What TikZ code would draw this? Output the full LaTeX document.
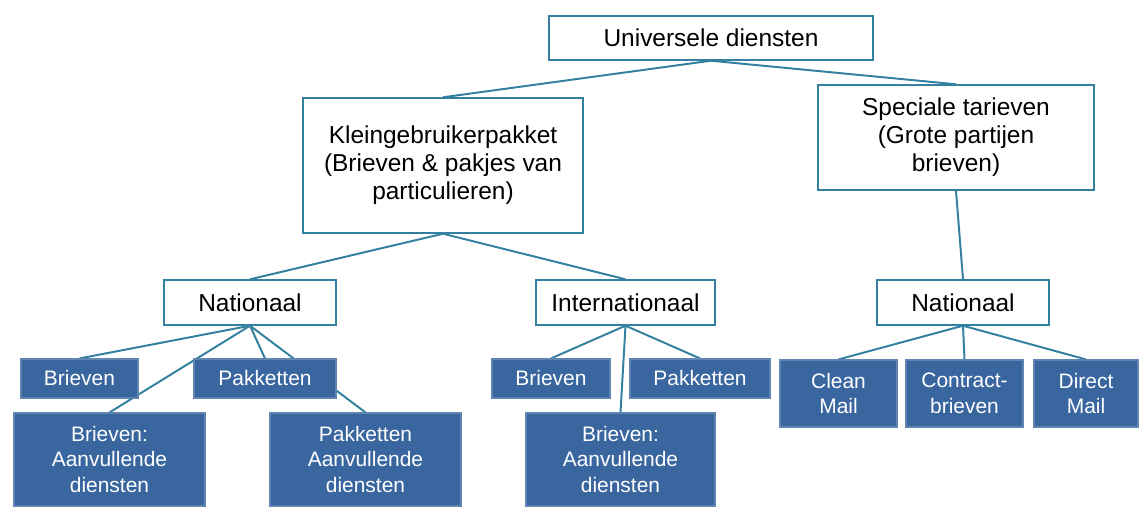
\documentclass[tikz,border=0pt]{standalone}
\usepackage{fontspec}
\setmainfont{Liberation Sans}
\usepackage{xcolor}
\usepackage{tikz}
\usetikzlibrary{backgrounds}
\definecolor{lijnblauw}{RGB}{52,128,160}
\definecolor{vakblauw}{RGB}{58,102,160}

\begin{document}
\begin{tikzpicture}[x=0.025cm, y=-0.025cm,
		wit/.style={draw=lijnblauw, line width=1pt, fill=white, align=center, inner sep=0pt, font=\fontsize{17.4}{19.9}\selectfont},
		blauw/.style={draw=vakblauw!80!white, line width=0.8pt, fill=vakblauw, text=white, align=center, inner sep=0pt, font=\fontsize{14.9}{18.4}\selectfont},
		tak/.style={draw=lijnblauw, line width=1.4pt}]
		\useasboundingbox (0,0) rectangle (1140,522);
		
		\node[wit, minimum width=8.1cm, minimum height=1.1cm] (univ) at (711,38) {Universele diensten};
		\node[wit, minimum width=7cm, minimum height=3.375cm] (klein) at (443,165.5) {Kleingebruikerpakket\\(Brieven \& pakjes van\\particulieren)};
		\node[wit, minimum width=6.9cm, minimum height=2.625cm] (speciaal) at (956,137.5) {Speciale tarieven\\(Grote partijen\\brieven)};
		
		\node[wit, minimum width=4.3cm, minimum height=1.125cm] (natL) at (250,302.5) {Nationaal};
		\node[wit, minimum width=4.475cm, minimum height=1.125cm] (intl) at (625.5,302.5) {Internationaal};
		\node[wit, minimum width=4.3cm, minimum height=1.125cm] (natR) at (963,302.5) {Nationaal};
		
		\node[blauw, minimum width=2.925cm, minimum height=0.975cm] (brvL) at (79.5,378.5) {Brieven};
		\node[blauw, minimum width=3.55cm, minimum height=0.975cm] (pktL) at (265,378.5) {Pakketten};
		\node[blauw, minimum width=4.775cm, minimum height=2.325cm] (brvAanvL) at (109.5,459.5) {Brieven:\\Aanvullende\\diensten};
		\node[blauw, minimum width=4.775cm, minimum height=2.325cm] (pktAanv) at (365.5,459.5) {Pakketten\\Aanvullende\\diensten};
		
		\node[blauw, minimum width=2.95cm, minimum height=0.975cm] (brvI) at (551,378.5) {Brieven};
		\node[blauw, minimum width=3.5cm, minimum height=0.975cm] (pktI) at (700,378.5) {Pakketten};
		\node[blauw, minimum width=4.725cm, minimum height=2.325cm] (brvAanvI) at (620.5,459.5) {Brieven:\\Aanvullende\\diensten};
		
		\node[blauw, minimum width=2.925cm, minimum height=1.675cm] (clean) at (838.5,393.5) {Clean\\Mail};
		\node[blauw, minimum width=2.925cm, minimum height=1.675cm] (contract) at (964.5,393.5) {Contract-\\brieven};
		\node[blauw, minimum width=2.6cm, minimum height=1.675cm] (direct) at (1086,393.5) {Direct\\Mail};
		
		% takken achter de vakken
		\begin{scope}[on background layer]
			\draw[tak] (univ.south) -- (klein.north);
			\draw[tak] (univ.south) -- (speciaal.north);
			\draw[tak] (klein.south) -- (natL.north);
			\draw[tak] (klein.south) -- (intl.north);
			\draw[tak] (speciaal.south) -- (natR.north);
			\draw[tak] (natL.south) -- (brvL.north);
			\draw[tak] (natL.south) -- (pktL.north);
			\draw[tak] (natL.south) -- (brvAanvL.north);
			\draw[tak] (natL.south) -- (pktAanv.north);
			\draw[tak] (intl.south) -- (brvI.north);
			\draw[tak] (intl.south) -- (pktI.north);
			\draw[tak] (intl.south) -- (brvAanvI.north);
			\draw[tak] (natR.south) -- (clean.north);
			\draw[tak] (natR.south) -- (contract.north);
			\draw[tak] (natR.south) -- (direct.north);
		\end{scope}
	\end{tikzpicture}
\end{document}
